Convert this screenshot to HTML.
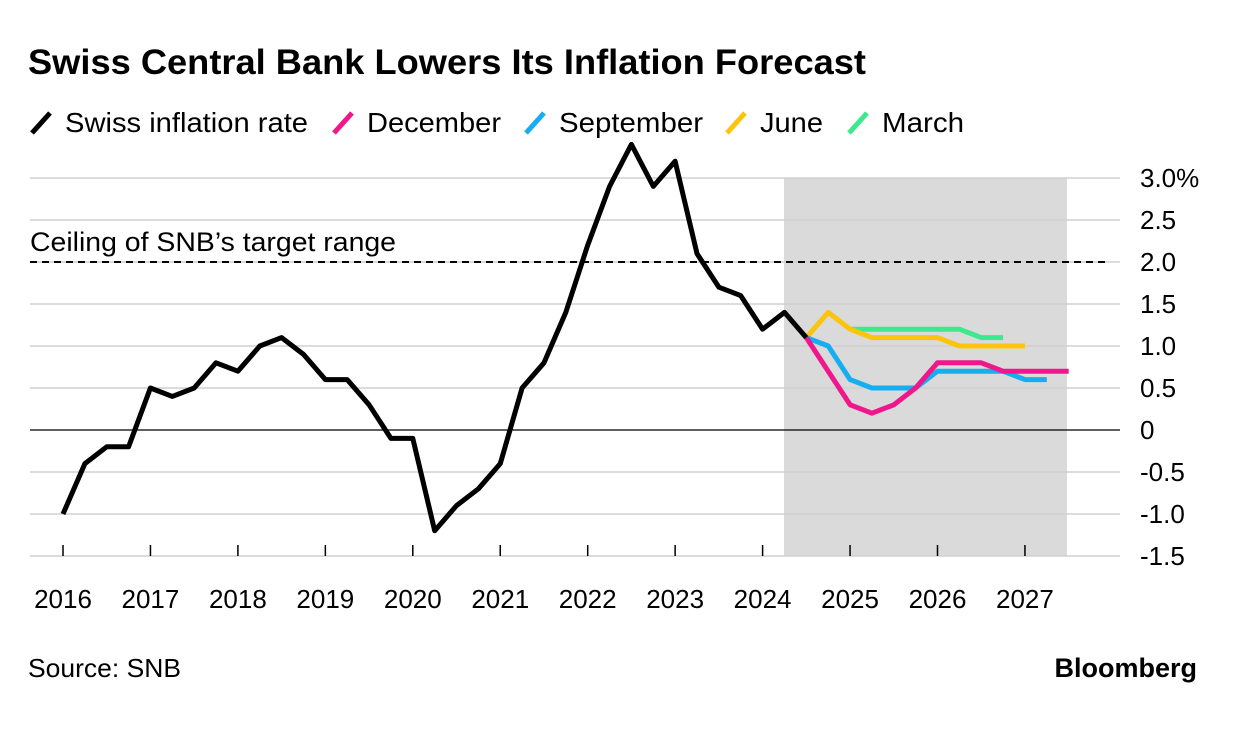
<!DOCTYPE html>
<html><head><meta charset="utf-8"><style>
body{margin:0;background:#fff;font-family:"Liberation Sans",sans-serif;}
svg text{font-family:"Liberation Sans",sans-serif;}
</style></head><body>
<svg id="chart" width="1236" height="726">
<text x="28" y="74" font-size="35" font-weight="bold" fill="#000" textLength="838" lengthAdjust="spacingAndGlyphs">Swiss Central Bank Lowers Its Inflation Forecast</text>
<g id="legend"></g>
<rect x="784" y="178" width="283" height="378" fill="#dadada"/>
<g id="grid"></g>
<text x="30" y="251" font-size="27" fill="#000" textLength="366" lengthAdjust="spacingAndGlyphs">Ceiling of SNB’s target range</text>
<g id="series"></g>
<text x="28" y="677" font-size="26" fill="#000" textLength="153" lengthAdjust="spacingAndGlyphs">Source: SNB</text>
<text x="1197" y="677" font-size="27" font-weight="bold" text-anchor="end" fill="#000">Bloomberg</text>
</svg>
<script>
const yTicks=[3.0,2.5,2.0,1.5,1.0,0.5,0,-0.5,-1.0,-1.5];
const yTickLabels=["3.0%","2.5","2.0","1.5","1.0","0.5","0","-0.5","-1.0","-1.5"];
const years=[2016,2017,2018,2019,2020,2021,2022,2023,2024,2025,2026,2027];
const actualStart=2016;
const actual=[-1.0,-0.4,-0.2,-0.2,0.5,0.4,0.5,0.8,0.7,1.0,1.1,0.9,0.6,0.6,0.3,-0.1,-0.1,-1.2,-0.9,-0.7,-0.4,0.5,0.8,1.4,2.2,2.9,3.4,2.9,3.2,2.1,1.7,1.6,1.2,1.4,1.1];
const decStart=2024.5, december=[1.1,0.7,0.3,0.2,0.3,0.5,0.8,0.8,0.8,0.7,0.7,0.7,0.7];
const sepStart=2024.5, september=[1.1,1.0,0.6,0.5,0.5,0.5,0.7,0.7,0.7,0.7,0.6,0.6];
const junStart=2024.5, june=[1.1,1.4,1.2,1.1,1.1,1.1,1.1,1.0,1.0,1.0,1.0];
const marStart=2025.0, march=[1.2,1.2,1.2,1.2,1.2,1.2,1.1,1.1];
const ceiling=2.0;
const legendNames=["Swiss inflation rate","December","September","June","March"];
const legendColors=["#000","#f0168c","#16aef0","#fcc40a","#3ee88c"];

const NS="http://www.w3.org/2000/svg";
const x=t=>63+(t-2016)*87.45;
const y=v=>430-v*84;
function mk(tag,attrs,parent){const e=document.createElementNS(NS,tag);for(const k in attrs)e.setAttribute(k,attrs[k]);parent.appendChild(e);return e;}
const grid=document.getElementById('grid');
yTicks.forEach((v,i)=>{
  const l=mk('line',{x1:30,x2:1120,y1:y(v),y2:y(v),stroke:v===0?'#000':'#d0d0d0','stroke-width':v===0?1.3:1.5},grid);
  
  
  const t=mk('text',{x:1140,y:y(v)+9,'font-size':26,fill:'#000'},grid);
  t.textContent=yTickLabels[i];
  
  
});
years.forEach(yr=>{
  const tk=mk('line',{x1:x(yr),x2:x(yr),y1:545,y2:556,stroke:'#000','stroke-width':1.5},grid);
  
  
  const t=mk('text',{x:x(yr),y:608,'font-size':26,'text-anchor':'middle',fill:'#000'},grid);
  t.textContent=yr;
  
  
});
const cl=mk('line',{x1:30,x2:1105,y1:y(ceiling),y2:y(ceiling),stroke:'#000','stroke-width':2,'stroke-dasharray':'7,5'},grid);


const ser=document.getElementById('series');
function line(arr,start,color,name){
  const pts=arr.map((v,i)=>x(start+i*0.25).toFixed(1)+','+y(v).toFixed(1)).join(' ');
  const p=mk('polyline',{points:pts,fill:'none',stroke:color,'stroke-width':5,'stroke-linejoin':'round'},ser);
  
  
}
line(march,marStart,legendColors[4],'march-forecast-line');
line(june,junStart,legendColors[3],'june-forecast-line');
line(september,sepStart,legendColors[2],'september-forecast-line');
line(december,decStart,legendColors[1],'december-forecast-line');
line(actual,actualStart,legendColors[0],'swiss-inflation-line');
const lg=document.getElementById('legend');
const lx=[32,334,526,727,849];
const lw=[243,134,144,63,82];
legendNames.forEach((n,i)=>{
  const g=mk('g',{},lg);
  
  
  mk('line',{x1:lx[i],y1:133,x2:lx[i]+18,y2:113,stroke:legendColors[i],'stroke-width':5},g);
  const t=mk('text',{x:lx[i]+33,y:132,'font-size':28,fill:'#000',textLength:lw[i],lengthAdjust:'spacingAndGlyphs'},g);
  t.textContent=n;
});
</script>
</body></html>
